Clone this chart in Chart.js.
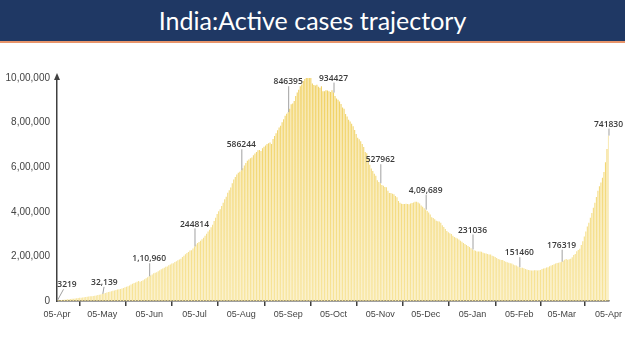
<!DOCTYPE html>
<html>
<head>
<meta charset="utf-8">
<script src="https://cdn.jsdelivr.net/npm/chart.js@4.4.1/dist/chart.umd.min.js"></script>
<style>
  html, body { margin: 0; padding: 0; background: #fff; }
  #wrap { position: relative; width: 625px; height: 351px; }
  #head {
    position: absolute; left: 0; top: 0; width: 625px; height: 41px;
    background: #1f3864; border-bottom: 2px solid #e8956b;
    color: #fff; font-family: Lato, "Open Sans", sans-serif; font-size: 25px;
    line-height: 40px; text-align: center; z-index: 2;
  }
  #chart { position: absolute; left: 0; top: 0; }
</style>
</head>
<body>
<div id="wrap">
  <div id="head">India:Active cases trajectory</div>
  <canvas id="chart" width="625" height="351"></canvas>
</div>
<script>
// daily active cases, 05-Apr-2020 .. 05-Apr-2021
const apr20 = [3219, 3851, 4067, 4643, 5095, 5709, 6565, 7409, 8048, 8988, 9756, 10477, 11201,
  11906, 12974, 14175, 14759, 15474, 16454, 17610, 18668, 19868, 20835, 21632, 22629, 23651];
const may20 = [25007, 26535, 28046, 29453, 32139, 33514, 35902, 37916, 39834, 41472, 43980, 46008,
  47480, 49219, 51401, 53035, 53946, 56316, 58802, 61149, 63624, 66330, 69597, 73560, 77103,
  80722, 83004, 86110, 89987, 86422, 89995];
const jun20 = [93322, 97581, 101497, 106737, 110960, 114073, 119293, 123997, 126431, 129215,
  133632, 137448, 141842, 145779, 149348, 153106, 155227, 160384, 163248, 168269, 169451,
  174387, 178014, 183022, 186514, 189463, 197387, 203051, 210120, 215125];
const jul20 = [220114, 226947, 227439, 235433, 244814, 253287, 259557, 264944, 269789, 276882,
  283407, 292258, 301609, 311565, 319840, 331146, 342473, 358692, 373379, 390459, 402529,
  411133, 426167, 440135, 456071, 467882, 485114, 496988, 509447, 528242, 545318];
const aug20 = [555912, 567730, 575072, 579357, 586244, 595501, 607384, 619088, 628747, 634945,
  639929, 643948, 653622, 661595, 668220, 676514, 676900, 673166, 684695, 692028, 697330,
  704348, 707267, 710771, 704348, 725991, 739908, 752424, 765302, 778294, 785996];
const sep20 = [801282, 815538, 831124, 839698, 846395, 862320, 882542, 886210, 897394, 919018,
  935422, 947576, 962640, 970492, 986598, 995933, 1017754, 1009976, 1010824, 1003299, 975861,
  968377, 966382, 970116, 960969, 956402, 962640, 940441, 940705, 944996];
const oct20 = [943480, 940441, 937625, 944996, 934427, 919023, 907883, 902425, 894725, 883185,
  867496, 861853, 838729, 826876, 812390, 804528, 795087, 783311, 766595, 748538, 732094,
  725346, 715812, 703687, 690238, 668154, 662303, 640403, 610803, 594386, 583155];
const nov20 = [570458, 561908, 541405, 533787, 527962, 520718, 516632, 510665, 509673, 494657,
  483886, 484547, 480719, 479216, 470375, 465478, 448100, 440120, 436200, 435400, 434800,
  436100, 435200, 433900, 437500, 439800, 442100, 445200, 444600, 441300];
const dec20 = [436800, 428644, 422900, 416082, 409689, 403248, 396729, 388063, 376033, 372293,
  366245, 359819, 357139, 356546, 350804, 339820, 332002, 322366, 313831, 308751, 303639,
  300433, 292518, 287240, 283849, 279919, 275690, 270301, 265581, 260272, 255656];
const jan21 = [251254, 247183, 242220, 236953, 231036, 228083, 225449, 222526, 222416, 221416,
  220676, 216558, 214507, 213027, 211033, 208826, 208012, 203334, 200528, 197201, 192308,
  188688, 185662, 184182, 184408, 178818, 176498, 173740, 171686, 169824, 168235];
const feb21 = [163353, 160057, 159590, 155025, 151460, 148609, 148590, 146907, 143625, 141511,
  139542, 137342, 136872, 136549, 138000, 137567, 136549, 137567, 139542, 143127, 145634,
  147306, 150055, 151708, 156385, 159590, 161240, 164511];
const mar21 = [168627, 170126, 171923, 173413, 176319, 180304, 184523, 188747, 184598, 187462,
  189226, 196237, 206520, 210544, 223432, 228569, 234406, 251317, 267902, 289436, 311528,
  333874, 351206, 372815, 394670, 418342, 441068, 466215, 494380, 514937, 531164];
const apr21 = [552566, 578431, 621904, 681237, 741830];

// callouts sit on every "05-" day, in this order
const calloutText = ["3219", "32,139", "1,10,960", "244814", "586244", "846395", "934427",
  "527962", "4,09,689", "231036", "151460", "176319", "741830"];

const yTicks = [0, 200000, 400000, 600000, 800000, 1000000];

// styling for callouts (px above bar top, sideways shift)
const calloutLift = [12, 8, 14, 19, 22, 27, 11, 20, 16, 16, 11, 13, 8];
const calloutShift = [10, 2, 0, 0, 0, 0, 0, 0, 0, 0, 0, 0, 0];

const activeCases = [].concat(apr20, may20, jun20, jul20, aug20, sep20, oct20, nov20,
  dec20, jan21, feb21, mar21, apr21);

const monthNames = ["Jan", "Feb", "Mar", "Apr", "May", "Jun", "Jul", "Aug", "Sep", "Oct", "Nov", "Dec"];
const dayLabels = [];
for (let i = 0; i < activeCases.length; i++) {
  const d = new Date(Date.UTC(2020, 3, 5 + i));
  const dd = String(d.getUTCDate()).padStart(2, "0");
  dayLabels.push(dd + "-" + monthNames[d.getUTCMonth()]);
}

function indianFormat(n) {
  const s = String(Math.round(n));
  if (s.length <= 3) return s;
  let head = s.slice(0, -3);
  const tail = s.slice(-3);
  const parts = [];
  while (head.length > 2) {
    parts.unshift(head.slice(-2));
    head = head.slice(0, -2);
  }
  if (head) parts.unshift(head);
  return parts.join(",") + "," + tail;
}

const calloutPlugin = {
  id: "callouts",
  afterDatasetsDraw(chart) {
    const ctx = chart.ctx;
    const xs = chart.scales.x, ys = chart.scales.y;
    ctx.save();
    ctx.font = "600 8.5px 'Open Sans', Arial, sans-serif";
    ctx.textAlign = "center";
    ctx.textBaseline = "bottom";
    let k = 0;
    dayLabels.forEach((lab, i) => {
      if (!lab.startsWith("05-") || k >= calloutText.length) return;
      const x = xs.getPixelForValue(i);
      const yTop = ys.getPixelForValue(activeCases[i]);
      const yText = yTop - calloutLift[k];
      const dx = calloutShift[k];
      ctx.strokeStyle = "#a0a0a0";
      ctx.lineWidth = 1;
      ctx.beginPath();
      ctx.moveTo(x + 0.5, yTop);
      ctx.lineTo(x + 0.5 + dx * 0.6, yText + 1);
      ctx.stroke();
      ctx.fillStyle = "#3a3a3a";
      ctx.fillText(calloutText[k], x + dx, yText + 1);
      k++;
    });
    // arrow head on the y axis
    const ax = chart.chartArea.left;
    const at = chart.chartArea.top;
    ctx.fillStyle = "#404040";
    ctx.beginPath();
    ctx.moveTo(ax, at - 5);
    ctx.lineTo(ax - 3, at + 2);
    ctx.lineTo(ax + 3, at + 2);
    ctx.closePath();
    ctx.fill();
    ctx.restore();
  }
};

function barFill(context) {
  const area = context.chart.chartArea;
  if (!area) return "#f3d978";
  const g = context.chart.ctx.createLinearGradient(0, area.top, 0, area.bottom);
  g.addColorStop(0, "#f0d060");
  g.addColorStop(1, "#f7e49a");
  return g;
}

new Chart(document.getElementById("chart"), {
  type: "bar",
  data: {
    labels: dayLabels,
    datasets: [{
      label: "Active cases",
      data: activeCases,
      backgroundColor: barFill,
      barPercentage: 0.72,
      categoryPercentage: 1
    }]
  },
  options: {
    responsive: false,
    animation: false,
    layout: { padding: { left: 0, right: 16, top: 78, bottom: 0 } },
    plugins: {
      legend: { display: false },
      tooltip: { enabled: false }
    },
    scales: {
      x: {
        offset: false,
        grid: { display: true, drawOnChartArea: false, drawTicks: true, tickLength: 5, color: "#404040", lineWidth: 1.5 },
        border: { display: true, color: "#404040", width: 1.5 },
        ticks: {
          autoSkip: false, maxRotation: 0, minRotation: 0, padding: 3,
          color: "#444", font: { family: "'Liberation Sans', Arial, sans-serif", size: 9 },
          callback: (v, i) => dayLabels[i].startsWith("05-") ? dayLabels[i] : null
        },
        afterFit: (s) => { s.height = 50; }
      },
      y: {
        min: 0, max: 1000000,
        grid: { display: false, drawTicks: false },
        border: { display: true, color: "#404040", width: 1.5 },
        afterBuildTicks: (s) => { s.ticks = yTicks.map(v => ({ value: v })); },
        ticks: {
          padding: 7, color: "#444",
          font: { family: "'Liberation Sans', Arial, sans-serif", size: 10 },
          callback: (v) => indianFormat(v)
        },
        afterFit: (s) => { s.width = 57; }
      }
    }
  },
  plugins: [calloutPlugin]
});
</script>
</body>
</html>
